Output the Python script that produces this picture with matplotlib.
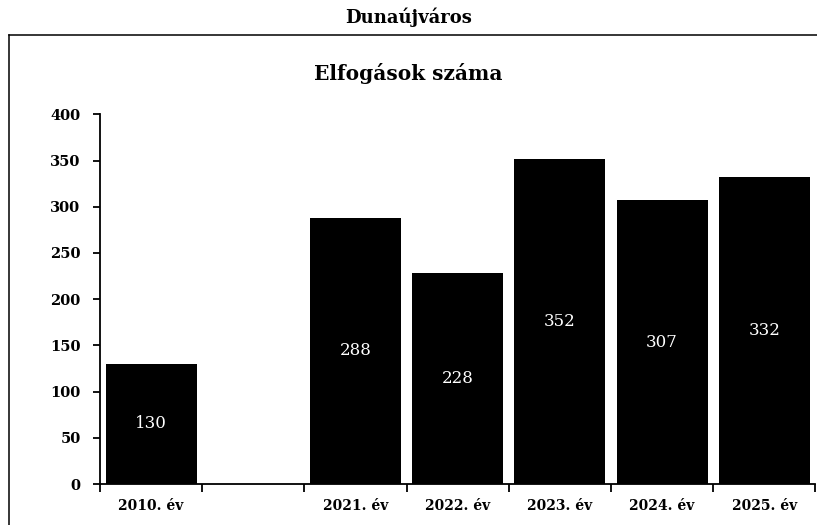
import matplotlib.pyplot as plt
from matplotlib.lines import Line2D
import numpy as np

# adatok
categories = ['2010. év', '', '2021. év', '2022. év', '2023. év', '2024. év', '2025. év']
values = [130, np.nan, 288, 228, 352, 307, 332]
value_labels = ['130', '', '288', '228', '352', '307', '332']
y_ticks = [0, 50, 100, 150, 200, 250, 300, 350, 400]

W, H = 817, 525
fig = plt.figure(figsize=(W / 100, H / 100), dpi=100)
plt.rcParams['font.family'] = ['DejaVu Serif']

# tengely helye pixelben
left, right, bottom, top = 100, 815.5, 484, 114.3
ax = fig.add_axes([left / W, 1 - bottom / H, (right - left) / W, (bottom - top) / H])

x = np.arange(len(categories))
bars = ax.bar(x, values, width=0.89, color='black', zorder=2)
ax.bar_label(bars, labels=value_labels, label_type='center', color='white',
             fontsize=12, fontfamily='DejaVu Serif')

ax.set_xlim(-0.5, len(categories) - 0.5)
ax.set_ylim(0, 400)
ax.set_yticks(y_ticks)
ax.set_yticklabels([str(v) for v in y_ticks], fontsize=10.5, fontweight='bold')

# osztasok a kategoriak hataran, feliratok kozepen
ax.set_xticks(np.arange(-0.5, len(categories), 1.0))
ax.set_xticklabels([])
ax.set_xticks(x, minor=True)
ax.set_xticklabels(categories, minor=True, fontsize=10, fontweight='bold')
ax.tick_params(axis='x', which='major', direction='out', length=6, width=1.3)
ax.tick_params(axis='x', which='minor', length=0, pad=11)
ax.tick_params(axis='y', direction='out', length=5, width=1.3, pad=9)

for s in ['top', 'right']:
    ax.spines[s].set_visible(False)
for s in ['left', 'bottom']:
    ax.spines[s].set_linewidth(1.3)

# keret
box_top = 1 - 35 / H
fig.add_artist(Line2D([9 / W, 1.0], [box_top, box_top], color='black', lw=1.1))
fig.add_artist(Line2D([9 / W, 9 / W], [0.0, box_top], color='black', lw=1.1))

fig.text(0.5, 1 - 17 / H, 'Dunaújváros', ha='center', va='center',
         fontsize=13, fontweight='bold')
fig.text(0.5, 1 - 74 / H, 'Elfogások száma', ha='center', va='center',
         fontsize=14.5, fontweight='bold')

fig.savefig('out.png', dpi=100)
